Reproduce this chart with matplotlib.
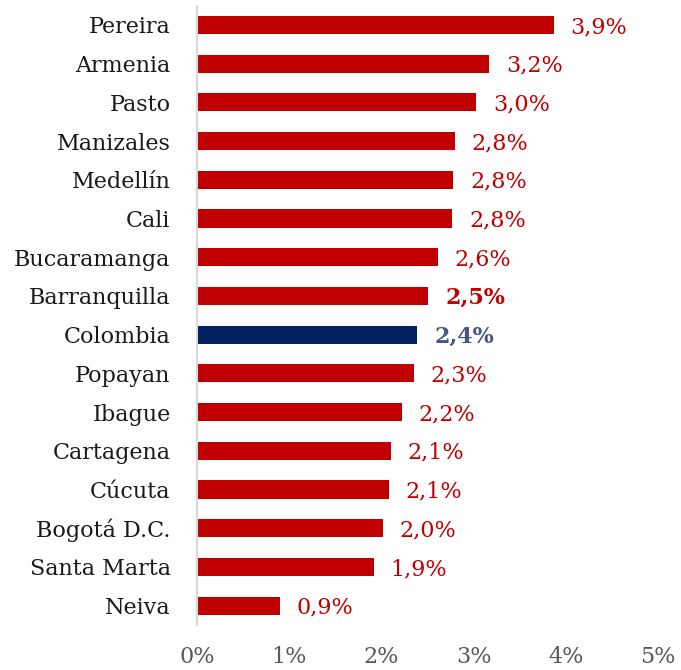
import matplotlib
matplotlib.use("Agg")
import matplotlib.pyplot as plt

cities = ["Pereira", "Armenia", "Pasto", "Manizales", "Medellín", "Cali", "Bucaramanga",
          "Barranquilla", "Colombia", "Popayan", "Ibague", "Cartagena", "Cúcuta",
          "Bogotá D.C.", "Santa Marta", "Neiva"]
values = [3.87, 3.17, 3.03, 2.80, 2.78, 2.77, 2.61, 2.51, 2.39, 2.35, 2.22, 2.10, 2.08, 2.02, 1.92, 0.90]
labels = ["3,9%", "3,2%", "3,0%", "2,8%", "2,8%", "2,8%", "2,6%", "2,5%", "2,4%", "2,3%",
          "2,2%", "2,1%", "2,1%", "2,0%", "1,9%", "0,9%"]
xticks = [0, 1, 2, 3, 4, 5]
xticklabels = ["0%", "1%", "2%", "3%", "4%", "5%"]

RED = "#C00000"
NAVY = "#002060"
plt.rcParams['font.family'] = ['DejaVu Serif']

fig = plt.figure(figsize=(6.81, 6.70), dpi=100)
ax = fig.add_axes([197/681, 1-625/670, (658-197)/681, (625-5.6)/670])

colors = [NAVY if c == "Colombia" else RED for c in cities]
y = list(range(len(cities)))
ax.barh(y, values, height=0.47, color=colors)
ax.set_ylim(len(cities) - 0.5, -0.5)
ax.set_xlim(0, 5)

for i, (v, lab, c) in enumerate(zip(values, labels, cities)):
    if c == "Colombia":
        col, w = "#4A5485", "bold"
    elif c == "Barranquilla":
        col, w = RED, "bold"
    else:
        col, w = RED, "normal"
    ax.annotate(lab, (v, i), xytext=(12, -1.5), textcoords="offset points",
                va="center", ha="left", color=col, fontweight=w, fontsize=16)

ax.set_yticks(y)
ax.set_yticklabels(cities, fontsize=16, color="#1a1a1a")
ax.set_xticks(xticks)
ax.set_xticklabels(xticklabels, fontsize=16, color="#595959")
ax.tick_params(axis="both", length=0)
ax.tick_params(axis="y", pad=19)
ax.tick_params(axis="x", pad=15)
for s in ["top", "right", "bottom"]:
    ax.spines[s].set_visible(False)
ax.spines["left"].set_color("#D9D9D9")
ax.spines["left"].set_linewidth(1.5)

fig.savefig("out.png", dpi=100)
